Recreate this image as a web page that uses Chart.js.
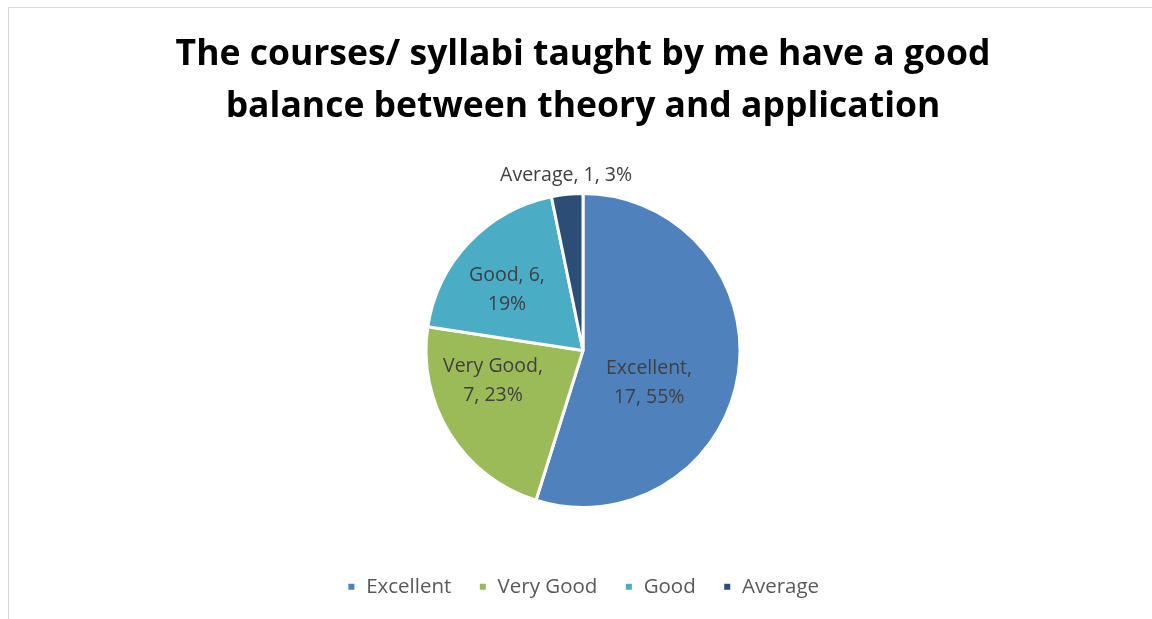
<!DOCTYPE html>
<html>
<head>
<meta charset="utf-8">
<script src="https://cdn.jsdelivr.net/npm/chart.js@4"></script>
<style>
  html, body { margin: 0; padding: 0; background: #fff; overflow: hidden; }
  #frame {
    position: absolute; left: 8px; top: 7px;
    width: 1160px; height: 630px;
    border-top: 1px solid #d9d9d9; border-left: 1px solid #d9d9d9;
  }
  #wrap { position: absolute; left: 0; top: 0; width: 1148px; height: 611px; }
</style>
</head>
<body>
<div id="frame"><div id="wrap"><canvas id="pie"></canvas></div></div>
<script>
// Pie: courses / syllabi balance between theory and application

const categories = ["Excellent", "Very Good", "Good", "Average"];
const counts = [17, 7, 6, 1];
const percents = ["55%", "23%", "19%", "3%"];
const colors = ["#4f81bd", "#9bbb59", "#4bacc6", "#2c4d75"];

const titleLines = ["The courses/ syllabi taught by me have a good", "balance between theory and application"];

// label text, wrapped the way the picture wraps it
function labelLines(i) {
    const name = categories[i], n = counts[i], p = percents[i];
    if (i === 2) return [name + ", " + n + ",", p];
    if (i === 3) return [name + ", " + n + ", " + p];
    return [name + ",", n + ", " + p];
}

// where each label sits, relative to the pie centre: [fraction of radius, angle in degrees]
const labelPlace = [[0.469, 26.2], [0.605, 161.3], [0.617, 218.3], [1.123, 264.5]];

const dataLabels = {
    id: "dataLabels",
    afterDatasetsDraw(chart) {
        const ctx = chart.ctx;
        const arcs = chart.getDatasetMeta(0).data;
        ctx.save();
        ctx.font = "19.5px 'Open Sans'";
        ctx.fillStyle = "#404040";
        ctx.textAlign = "center";
        ctx.textBaseline = "middle";
        arcs.forEach((arc, i) => {
            const [f, deg] = labelPlace[i];
            const a = deg * Math.PI / 180;
            const cx = arc.x + Math.cos(a) * arc.outerRadius * f;
            const cy = arc.y + Math.sin(a) * arc.outerRadius * f;
            const lines = labelLines(i);
            const lh = 29;
            lines.forEach((t, k) => {
                ctx.fillText(t, cx, cy + (k - (lines.length - 1) / 2) * lh);
            });
        });
        ctx.restore();
    }
};

const config = {
    type: "pie",
    data: {
        labels: categories,
        datasets: [{
            data: counts,
            backgroundColor: colors,
            borderColor: "#ffffff",
            borderWidth: 3,
            radius: 157
        }]
    },
    options: {
        responsive: true,
        maintainAspectRatio: false,
        animation: false,
        layout: { padding: { top: 0, bottom: 12 } },
        plugins: {
            title: {
                display: true,
                text: titleLines,
                color: "#000000",
                font: { family: "'Open Sans'", size: 35.5, weight: "bold", lineHeight: 1.464 },
                padding: { top: 21, bottom: 18.5 }
            },
            legend: {
                position: "bottom",
                labels: {
                    boxWidth: 9,
                    boxHeight: 9,
                    padding: 27,
                    color: "#595959",
                    font: { family: "'Open Sans'", size: 20.5 }
                }
            },
            tooltip: { enabled: false }
        }
    },
    plugins: [dataLabels]
};

new Chart(document.getElementById("pie"), config);
</script>
</body>
</html>
